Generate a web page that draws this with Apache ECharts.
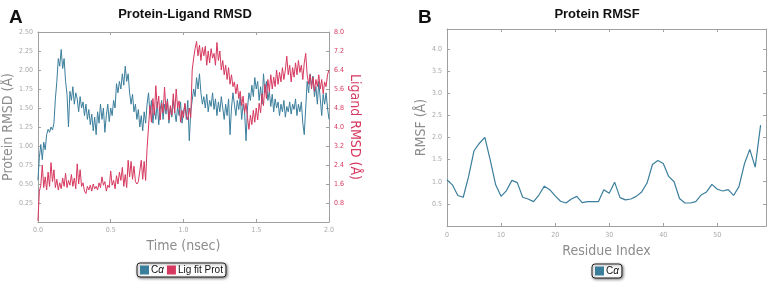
<!DOCTYPE html>
<html>
<head>
<meta charset="utf-8">
<script src="https://cdn.jsdelivr.net/npm/echarts@6/dist/echarts.min.js"></script>
<style>
  html, body { margin: 0; padding: 0; background: #fff; }
  #chart { width: 768px; height: 283px; }
</style>
</head>
<body>
<div id="chart"></div>
<script>
// Panel A: protein (C-alpha) and ligand RMSD, one sample every 0.01 ns from 0.00 to 2.00
const timeStep = 0.01;
const proteinRmsd = [
  0.55, 0.85, 1.02, 0.82, 1.05, 0.95, 1.15, 1.22, 1.18, 1.25,
  1.21, 1.30, 1.62, 1.85, 2.15, 2.05, 2.27, 2.02, 2.15, 1.85,
  1.68, 1.25, 1.72, 1.60, 1.78, 1.55, 1.70, 1.62, 1.45, 1.65,
  1.50, 1.58, 1.40, 1.55, 1.35, 1.48, 1.28, 1.42, 1.20, 1.38,
  1.15, 1.45, 1.30, 1.55, 1.35, 1.50, 1.18, 1.40, 1.55, 1.32,
  1.50, 1.40, 1.60, 1.50, 1.82, 1.70, 1.85, 1.75, 1.95, 1.80,
  2.05, 1.85, 1.95, 1.70, 1.55, 1.68, 1.45, 1.55, 1.35, 1.48,
  1.25, 1.40, 1.20, 1.45, 1.30, 1.55, 1.70, 1.42, 1.60, 1.30,
  1.50, 1.35, 1.58, 1.28, 1.48, 1.60, 1.35, 1.55, 1.42, 1.62,
  1.30, 1.50, 1.38, 1.60, 1.45, 1.32, 1.52, 1.40, 1.58, 1.30,
  1.45, 1.55, 1.35, 1.60, 1.07, 1.45, 1.60, 1.75, 1.65, 1.90,
  1.75, 1.95, 1.70, 1.55, 1.65, 1.50, 1.68, 1.45, 1.60, 1.52,
  1.70, 1.48, 1.62, 1.40, 1.58, 1.45, 1.65, 1.50, 1.35, 1.55,
  1.40, 1.62, 1.15, 1.50, 1.70, 1.55, 1.40, 1.60, 1.48, 1.65,
  1.35, 1.55, 1.45, 1.07, 1.50, 1.70, 1.60, 1.80, 1.65, 1.90,
  1.75, 1.85, 1.60, 1.78, 1.55, 1.95, 1.70, 1.85, 1.60, 1.72,
  1.52, 1.68, 1.45, 1.62, 1.50, 1.58, 1.40, 1.55, 1.45, 1.60,
  1.38, 1.52, 1.45, 1.58, 1.42, 1.55, 1.48, 1.62, 1.40, 1.55,
  1.45, 1.58, 1.30, 1.15, 1.50, 1.85, 1.70, 1.95, 1.80, 1.92,
  1.65, 1.78, 1.55, 1.85, 1.62, 1.40, 1.68, 1.55, 1.70, 1.50,
  1.35
];
const ligandRmsd = [
  0.05, 1.30, 1.55, 2.40, 1.45, 1.90, 1.35, 2.10, 1.50, 2.50,
  1.70, 2.20, 1.45, 1.80, 1.35, 1.65, 1.40, 1.85, 1.50, 2.05,
  1.45, 1.75, 1.55, 2.00, 1.50, 1.85, 1.40, 2.45, 1.60, 2.20,
  1.50, 1.65, 1.30, 1.20, 1.50, 1.35, 1.55, 1.30, 1.60, 1.40,
  1.50, 1.35, 1.65, 1.45, 1.90, 1.55, 1.70, 1.30, 1.55, 1.45,
  2.15, 1.55, 1.75, 1.40, 1.95, 1.60, 2.10, 1.75, 2.30, 1.50,
  2.00, 1.45, 2.60, 1.90, 2.55, 1.80, 2.35, 1.70, 1.60, 1.70,
  1.75, 2.60, 1.80, 2.55, 1.75, 3.10, 4.00, 4.90, 4.20, 5.20,
  4.50, 5.74, 4.80, 5.30, 4.30, 5.00, 4.60, 5.68, 4.70, 5.10,
  4.30, 4.90, 4.50, 5.40, 4.60, 5.60, 4.80, 5.10, 4.20, 4.70,
  4.40, 5.00, 4.50, 4.30, 4.80, 4.40, 6.40, 6.90, 7.30, 7.60,
  7.00, 7.45, 6.80, 7.35, 7.00, 7.40, 6.60, 7.20, 6.70, 7.30,
  6.90, 7.10, 6.60, 7.56, 6.80, 7.20, 6.40, 6.80, 6.20, 6.60,
  6.00, 6.50, 5.80, 6.20, 5.70, 5.90, 5.40, 5.80, 5.20, 5.50,
  4.90, 5.30, 4.60, 5.00, 4.40, 3.90, 4.50, 4.10, 4.70, 4.20,
  4.80, 4.30, 5.00, 4.60, 5.40, 4.90, 5.80, 5.20, 6.00, 5.50,
  6.20, 5.60, 6.10, 5.70, 6.40, 5.80, 6.30, 5.90, 6.50, 6.00,
  6.40, 6.98, 6.20, 6.60, 5.90, 6.50, 6.10, 6.70, 6.20, 6.80,
  6.30, 6.60, 6.00, 6.70, 7.10, 6.20, 5.80, 6.20, 5.60, 6.10,
  5.50, 6.00, 5.70, 6.20, 5.60, 6.00, 5.40, 5.90, 5.70, 6.20,
  6.40
];
// Panel B: RMSF per residue index 0..58
const residueRmsf = [
  1.04, 0.93, 0.69, 0.65, 1.12, 1.70, 1.87, 2.00, 1.49, 0.93,
  0.67, 0.80, 1.03, 0.98, 0.65, 0.61, 0.55, 0.70, 0.90, 0.82,
  0.68, 0.56, 0.52, 0.61, 0.67, 0.53, 0.55, 0.55, 0.55, 0.82,
  0.74, 0.99, 0.64, 0.59, 0.61, 0.67, 0.77, 0.97, 1.39, 1.48,
  1.41, 1.12, 1.00, 0.62, 0.52, 0.52, 0.55, 0.70, 0.77, 0.94,
  0.83, 0.79, 0.82, 0.69, 0.89, 1.40, 1.73, 1.33, 2.28
];

const blue = '#3b7e9c';
const red = '#d6385f';
const gray = '#8c8c8c';
const tickGray = '#a8a8a8';
const frame = '#a0a0a0';
const narrow = "'Liberation Sans Narrow', 'Liberation Sans', Arial, sans-serif";
const cond = "'DejaVu Sans Condensed', 'DejaVu Sans', sans-serif";

const proteinData = proteinRmsd.map((v, i) => [i * timeStep, v]);
const ligandData = ligandRmsd.map((v, i) => [i * timeStep, v]);
const rmsfData = residueRmsf.map((v, i) => [i, v]);

function frameAxis(extra) {
  return Object.assign({
    axisLine: { show: true, onZero: false, lineStyle: { color: frame, width: 1 } },
    axisTick: { show: true, inside: true, length: 3, lineStyle: { color: frame } },
    splitLine: { show: false },
    axisLabel: { fontSize: 7, color: tickGray, fontFamily: cond, margin: 5 },
    nameTextStyle: { fontSize: 14, color: gray, fontFamily: cond }
  }, extra);
}

const legendBox = {
  icon: 'rect', itemWidth: 9, itemHeight: 9, itemGap: 3, padding: [2, 3],
  borderColor: '#222', borderWidth: 1, borderRadius: 3, backgroundColor: '#fff',
  shadowBlur: 3, shadowColor: 'rgba(0,0,0,0.5)', shadowOffsetX: 1, shadowOffsetY: 1,
  textStyle: { fontSize: 10, color: '#111', fontFamily: narrow, padding: [0, 0, 0, -3],
    rich: { i: { fontStyle: 'italic', fontSize: 10, fontFamily: narrow } } }
};

const myChart = echarts.init(document.getElementById('chart'));
const option = {
  animation: false,
  title: [
    { text: 'A', left: 4, top: 3, textStyle: { fontSize: 19, fontWeight: 'bold', color: '#111', fontFamily: 'Liberation Sans, Arial' } },
    { text: 'Protein-Ligand RMSD', left: 180, top: 3, textAlign: 'center', textStyle: { fontSize: 13, fontWeight: 'bold', color: '#111', fontFamily: narrow } },
    { text: 'B', left: 413, top: 3, textStyle: { fontSize: 19, fontWeight: 'bold', color: '#111', fontFamily: 'Liberation Sans, Arial' } },
    { text: 'Protein RMSF', left: 592, top: 3, textAlign: 'center', textStyle: { fontSize: 13, fontWeight: 'bold', color: '#111', fontFamily: narrow } }
  ],
  legend: [
    Object.assign({ data: ['Cα', 'Lig fit Prot'], left: 137, top: 263,
      formatter: n => n === 'Cα' ? 'C{i|α}' : n }, legendBox),
    Object.assign({ data: ['Cα'], left: 592, top: 264,
      formatter: () => 'C{i|α}' }, legendBox)
  ],
  grid: [
    { left: 32, right: 439, top: 32, bottom: 61 },
    { left: 447, right: 2, top: 29, bottom: 57 }
  ],
  xAxis: [
    frameAxis({ gridIndex: 0, type: 'value', min: 0, max: 2, interval: 0.5, position: 'bottom',
      name: 'Time (nsec)', nameLocation: 'middle', nameGap: 16,
      axisLabel: { fontSize: 7, color: tickGray, fontFamily: cond, margin: 5, formatter: v => v.toFixed(1) } }),
    frameAxis({ gridIndex: 0, type: 'value', min: 0, max: 2, interval: 0.5, position: 'top',
      axisLabel: { show: false } }),
    frameAxis({ gridIndex: 1, type: 'value', min: 0, max: 59, interval: 10, position: 'bottom',
      name: 'Residue Index', nameLocation: 'middle', nameGap: 16,
      axisLabel: { fontSize: 7, color: tickGray, fontFamily: cond, margin: 6, showMaxLabel: false } }),
    frameAxis({ gridIndex: 1, type: 'value', min: 0, max: 59, interval: 10, position: 'top',
      axisLabel: { show: false } })
  ],
  yAxis: [
    frameAxis({ gridIndex: 0, type: 'value', min: 0, max: 2.5, interval: 0.25, position: 'left',
      name: 'Protein RMSD (Å)', nameLocation: 'middle', nameGap: 19,
      axisLabel: { fontSize: 7, color: tickGray, fontFamily: cond, margin: 5, showMinLabel: false, formatter: v => v.toFixed(2) } }),
    frameAxis({ gridIndex: 0, type: 'value', min: 0, max: 8, interval: 0.8, position: 'right',
      name: 'Ligand RMSD (Å)', nameLocation: 'middle', nameGap: 19, nameRotate: -90,
      nameTextStyle: { fontSize: 14, color: red, fontFamily: cond },
      axisLabel: { fontSize: 7, color: red, fontFamily: cond, margin: 5, showMinLabel: false, formatter: v => v.toFixed(1) } }),
    frameAxis({ gridIndex: 1, type: 'value', min: 0, max: 4.45, interval: 0.5, position: 'left',
      name: 'RMSF (Å)', nameLocation: 'middle', nameGap: 16,
      axisLabel: { fontSize: 7, color: tickGray, fontFamily: cond, margin: 5, showMinLabel: false, showMaxLabel: false, formatter: v => v.toFixed(1) } }),
    frameAxis({ gridIndex: 1, type: 'value', min: 0, max: 4.45, interval: 0.5, position: 'right',
      axisLabel: { show: false } })
  ],
  series: [
    { name: 'Cα', type: 'line', xAxisIndex: 0, yAxisIndex: 0, data: proteinData,
      showSymbol: false, color: blue, lineStyle: { width: 1, color: blue } },
    { name: 'Lig fit Prot', type: 'line', xAxisIndex: 0, yAxisIndex: 1, data: ligandData,
      showSymbol: false, color: red, lineStyle: { width: 1, color: red } },
    { name: 'Cα', type: 'line', xAxisIndex: 2, yAxisIndex: 2, data: rmsfData,
      showSymbol: false, color: blue, lineStyle: { width: 1.2, color: blue } }
  ]
};
myChart.setOption(option);
</script>
</body>
</html>
